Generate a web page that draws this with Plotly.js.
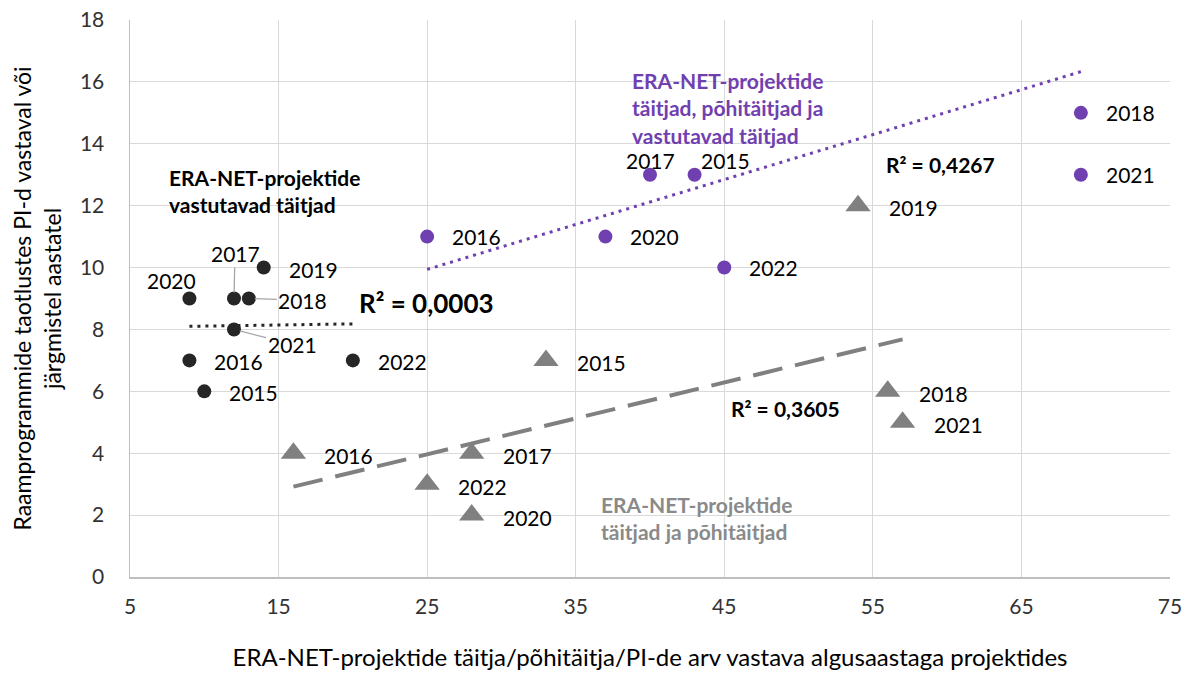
<!DOCTYPE html>
<html><head><meta charset="utf-8">
<script src="https://cdn.plot.ly/plotly-3.0.1.min.js"></script>
<style>html,body{margin:0;padding:0;background:#fff}#chart{width:1188px;height:673px}</style>
</head><body><div id="chart"></div>
<script>
// ---------- DATA ----------
const yearsVastutavad = [2020, 2017, 2018, 2019, 2021, 2016, 2015, 2022];
const xVastutavad     = [9, 12, 13, 14, 12, 9, 10, 20];
const yVastutavad     = [9, 9, 9, 10, 8, 7, 6, 7];

const yearsKoik = [2016, 2017, 2015, 2020, 2022, 2018, 2021];
const xKoik     = [25, 40, 43, 37, 45, 69, 69];
const yKoik     = [11, 13, 13, 11, 10, 15, 13];

const yearsPohi = [2016, 2022, 2017, 2020, 2015, 2019, 2018, 2021];
const xPohi     = [16, 25, 28, 28, 33, 54, 56, 57];
const yPohi     = [4, 3, 4, 2, 7, 12, 6, 5];

// linear trend lines (end points)
const trendVastutavadX = [9, 20],  trendVastutavadY = [8.10, 8.18];
const trendKoikX       = [25, 69], trendKoikY       = [9.94, 16.33];
const trendPohiX       = [16, 57], trendPohiY       = [2.92, 7.68];

const r2Texts = ['R² = 0,0003', 'R² = 0,4267', 'R² = 0,3605'];
const seriesNames = [
  'ERA-NET-projektide<br>vastutavad täitjad',
  'ERA-NET-projektide<br>täitjad, põhitäitjad ja<br>vastutavad täitjad',
  'ERA-NET-projektide<br>täitjad ja põhitäitjad'
];
const xTitle = 'ERA-NET-projektide täitja/põhitäitja/PI-de arv vastava algusaastaga projektides';
const yTitle = 'Raamprogrammide taotlustes PI-d vastaval või<br>järgmistel aastatel';

// ---------- STYLE ----------
const FONT = 'Lato, "Open Sans", sans-serif';
const C_BLACK = '#262626', C_PURPLE = '#7040B0', C_GRAY = '#808080', C_GRAYTXT = '#8a8a8a';

const labelDefaults = {
  vastutavad: {dx: 23, dy: -1.5},
  koik:       {dx: 23, dy: 0},
  pohi:       {dx: 29, dy: -2}
};
const labelOverrides = {
  'vastutavad-2020': {anchor: 'center', dx: -18, dy: 18},
  'vastutavad-2017': {arrow: true, ax: 1,  ay: -45},
  'vastutavad-2018': {arrow: true, ax: 54, ay: 1.5},
  'vastutavad-2021': {arrow: true, ax: 58, ay: 15},
  'koik-2017':       {anchor: 'center', dx: 0,  dy: 14},
  'koik-2015':       {anchor: 'center', dx: 31, dy: 14}
};

const annotations = [];
function addYearLabels(key, xs, ys, years) {
  xs.forEach((x, i) => {
    const o = labelOverrides[key + '-' + years[i]] || {};
    const d = labelDefaults[key];
    const base = {x: x, y: ys[i], xref: 'x', yref: 'y', text: String(years[i]),
      font: {family: FONT, size: 21, color: '#000'}};
    if (o.arrow) {
      annotations.push(Object.assign(base, {showarrow: true, arrowhead: 0, arrowwidth: 1.3,
        arrowcolor: '#a6a6a6', ax: o.ax, ay: o.ay, standoff: 6, xanchor: 'center', yanchor: 'middle'}));
    } else {
      annotations.push(Object.assign(base, {showarrow: false,
        xanchor: o.anchor || 'left', yanchor: 'middle',
        xshift: (o.dx !== undefined ? o.dx : d.dx), yshift: (o.dy !== undefined ? o.dy : d.dy)}));
    }
  });
}
addYearLabels('vastutavad', xVastutavad, yVastutavad, yearsVastutavad);
addYearLabels('koik', xKoik, yKoik, yearsKoik);
addYearLabels('pohi', xPohi, yPohi, yearsPohi);

function paperText(text, px, py, size, color) {
  annotations.push({xref: 'paper', yref: 'paper', x: px, y: py, text: text, showarrow: false,
    xanchor: 'left', yanchor: 'middle', align: 'left',
    font: {family: FONT, size: size, color: color, weight: 'bold'}});
}
paperText('<b>' + seriesNames[0] + '</b>', 0.036, 0.693, 21, '#000');
paperText('<b>' + seriesNames[1] + '</b>', 0.481, 0.842, 21, C_PURPLE);
paperText('<b>' + seriesNames[2] + '</b>', 0.451, 0.106, 21, C_GRAYTXT);
paperText('<b>' + r2Texts[0] + '</b>', 0.218, 0.492, 26, '#000');
paperText('<b>' + r2Texts[1] + '</b>', 0.725, 0.740, 21, '#000');
paperText('<b>' + r2Texts[2] + '</b>', 0.576, 0.303, 21, '#000');

const traces = [
  {x: trendVastutavadX, y: trendVastutavadY, mode: 'lines', hoverinfo: 'skip',
   line: {color: C_BLACK, width: 3, dash: '3px,5px'}},
  {x: trendKoikX, y: trendKoikY, mode: 'lines', hoverinfo: 'skip',
   line: {color: C_PURPLE, width: 3, dash: '3px,5px'}},
  {x: trendPohiX, y: trendPohiY, mode: 'lines', hoverinfo: 'skip',
   line: {color: C_GRAY, width: 4, dash: '30px,13px'}},
  {x: xVastutavad, y: yVastutavad, mode: 'markers', name: 'vastutavad täitjad',
   marker: {symbol: 'circle', size: 14, color: C_BLACK}},
  {x: xKoik, y: yKoik, mode: 'markers', name: 'täitjad, põhitäitjad ja vastutavad täitjad',
   marker: {symbol: 'circle', size: 14, color: C_PURPLE}},
  {x: xPohi, y: yPohi, mode: 'markers', name: 'täitjad ja põhitäitjad',
   marker: {symbol: 'triangle-up', size: 22, color: C_GRAY}}
];

const layout = {
  width: 1188, height: 673,
  margin: {l: 130, r: 18, t: 20, b: 96},
  paper_bgcolor: '#fff', plot_bgcolor: '#fff',
  showlegend: false,
  font: {family: FONT, size: 21, color: '#333'},
  xaxis: {
    range: [5, 75], tick0: 5, dtick: 10, tickmode: 'linear',
    showgrid: true, gridcolor: '#d9d9d9', gridwidth: 1,
    showline: true, linecolor: '#bfbfbf', linewidth: 1.5,
    zeroline: false, ticks: '', ticklabelstandoff: 10,
    tickfont: {family: FONT, size: 21, color: '#333'},
    title: {text: xTitle, font: {family: FONT, size: 24, color: '#000'}, standoff: 32}
  },
  yaxis: {
    range: [0, 18], tick0: 0, dtick: 2, tickmode: 'linear',
    showgrid: true, gridcolor: '#d9d9d9', gridwidth: 1,
    showline: true, linecolor: '#bfbfbf', linewidth: 1.5,
    zeroline: false, ticks: '', ticklabelstandoff: 20,
    tickfont: {family: FONT, size: 21, color: '#333'},
    title: {text: yTitle, font: {family: FONT, size: 23, color: '#000'}, standoff: 12}
  },
  annotations: annotations
};

Plotly.newPlot('chart', traces, layout, {displayModeBar: false, staticPlot: true});
</script>
</body></html>
